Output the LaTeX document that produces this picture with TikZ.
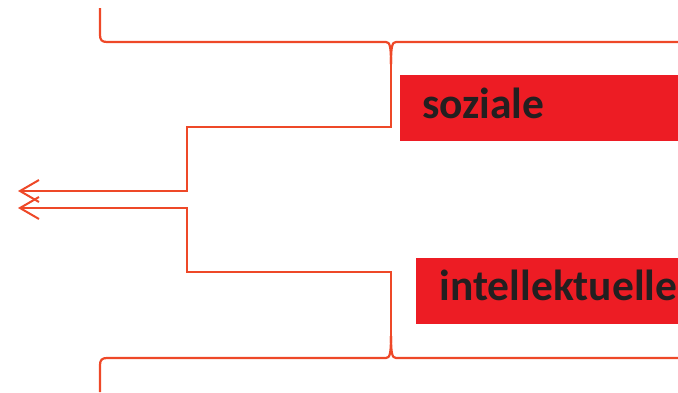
\documentclass[tikz,border=0pt]{standalone}
\usepackage{fontspec}
\setmainfont{Carlito}
\usepackage{xcolor}
\usetikzlibrary{arrows.meta}

\definecolor{linered}{RGB}{238,72,40}
\definecolor{boxred}{RGB}{237,28,36}
\definecolor{textdark}{RGB}{35,31,32}

\tikzset{
  bracket/.style={linered,line width=2.2pt,line join=miter},
  label/.style={text=textdark,font=\bfseries\fontsize{43.5}{44}\selectfont,
    anchor=base west,inner sep=0pt}
}

\begin{document}
\begin{tikzpicture}[x=1pt,y=-1pt]
\useasboundingbox (0,0) rectangle (678,392);
\begin{scope}[>={Straight Barb[length=19pt,width=22pt,line width=2pt]}]

    % red boxes
    \fill[boxred] (400,75) rectangle (690,141);
    \node[label] (soziale) at (422,118) {soziale};
    \fill[boxred] (416,258) rectangle (690,324);
    \node[label] (intellekt) at (439.5,300) {intellektuelle};

    % upper brace
    \coordinate (topTip) at (391,64);
    \draw[bracket] (100,8) -- (100,35) .. controls (100,40) and (102,42) .. (107,42)
        -- (386,42) .. controls (390,42) and (391,47) .. (topTip);
    \draw[bracket] (690,42) -- (396,42) .. controls (392,42) and (391,47) .. (topTip);

    % lower brace
    \coordinate (botTip) at (391,336);
    \draw[bracket] (100,392) -- (100,365) .. controls (100,360) and (102,358) .. (107,358)
        -- (386,358) .. controls (390,358) and (391,353) .. (botTip);
    \draw[bracket] (690,358) -- (396,358) .. controls (392,358) and (391,353) .. (botTip);

    % arrows
    \coordinate (topEnd) at (18,191);
    \coordinate (botEnd) at (18,208);
    \draw[bracket,->] (topTip) -- (391,127) -- (187,127) -- (187,191) -- (topEnd);
    \draw[bracket,->] (botTip) -- (391,272) -- (187,272) -- (187,208) -- (botEnd);

\end{scope}
\end{tikzpicture}
\end{document}
